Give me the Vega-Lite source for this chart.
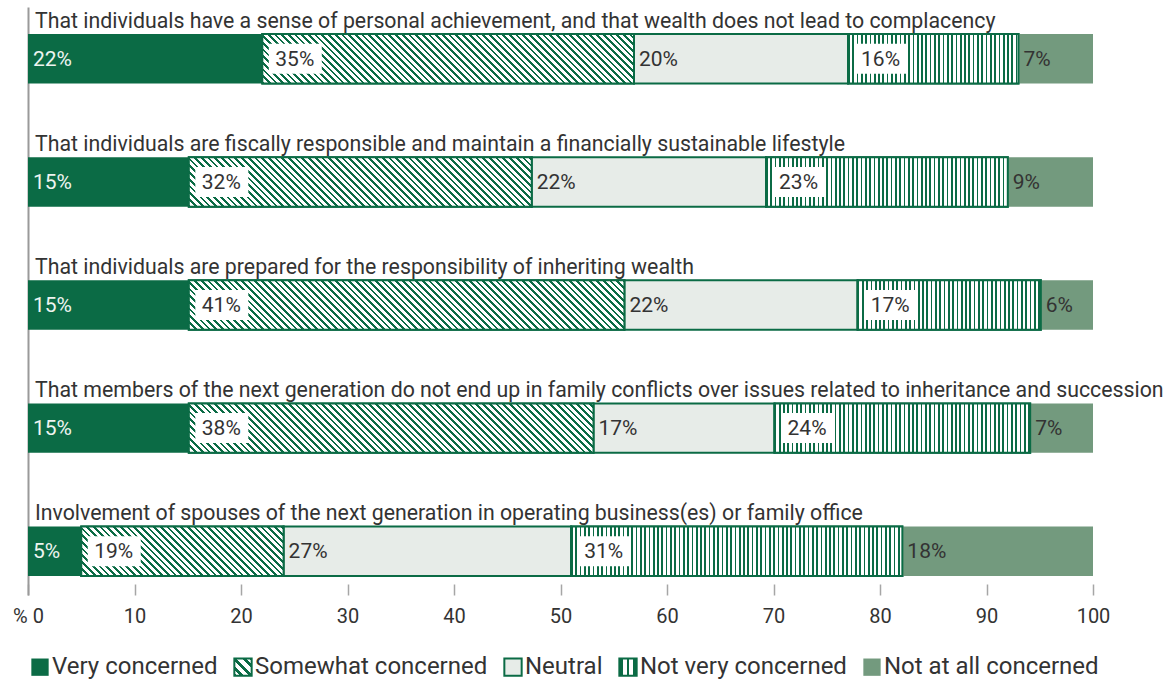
{
  "$schema": "https://vega.github.io/schema/vega-lite/v6.json",
  "autosize": {"type": "none"},
  "width": 1065,
  "height": 588,
  "padding": {"left": 28, "top": 7, "right": 73, "bottom": 84},
  "background": "white",
  "config": {"view": {"stroke": null}, "font": "Roboto"},
  "params": [
    {"name": "stp", "value": [
      {"offset":0,"color":"#0b6b45"},{"offset":0.005,"color":"#0b6b45"},{"offset":0.005,"color":"#fff"},{"offset":0.0125,"color":"#fff"},
      {"offset":0.0125,"color":"#0b6b45"},{"offset":0.0175,"color":"#0b6b45"},{"offset":0.0175,"color":"#fff"},{"offset":0.025,"color":"#fff"},
      {"offset":0.025,"color":"#0b6b45"},{"offset":0.03,"color":"#0b6b45"},{"offset":0.03,"color":"#fff"},{"offset":0.0375,"color":"#fff"},
      {"offset":0.0375,"color":"#0b6b45"},{"offset":0.0425,"color":"#0b6b45"},{"offset":0.0425,"color":"#fff"},{"offset":0.05,"color":"#fff"},
      {"offset":0.05,"color":"#0b6b45"},{"offset":0.055,"color":"#0b6b45"},{"offset":0.055,"color":"#fff"},{"offset":0.0625,"color":"#fff"},
      {"offset":0.0625,"color":"#0b6b45"},{"offset":0.0675,"color":"#0b6b45"},{"offset":0.0675,"color":"#fff"},{"offset":0.075,"color":"#fff"},
      {"offset":0.075,"color":"#0b6b45"},{"offset":0.08,"color":"#0b6b45"},{"offset":0.08,"color":"#fff"},{"offset":0.0875,"color":"#fff"},
      {"offset":0.0875,"color":"#0b6b45"},{"offset":0.0925,"color":"#0b6b45"},{"offset":0.0925,"color":"#fff"},{"offset":0.1,"color":"#fff"},
      {"offset":0.1,"color":"#0b6b45"},{"offset":0.105,"color":"#0b6b45"},{"offset":0.105,"color":"#fff"},{"offset":0.1125,"color":"#fff"},
      {"offset":0.1125,"color":"#0b6b45"},{"offset":0.1175,"color":"#0b6b45"},{"offset":0.1175,"color":"#fff"},{"offset":0.125,"color":"#fff"},
      {"offset":0.125,"color":"#0b6b45"},{"offset":0.13,"color":"#0b6b45"},{"offset":0.13,"color":"#fff"},{"offset":0.1375,"color":"#fff"},
      {"offset":0.1375,"color":"#0b6b45"},{"offset":0.1425,"color":"#0b6b45"},{"offset":0.1425,"color":"#fff"},{"offset":0.15,"color":"#fff"},
      {"offset":0.15,"color":"#0b6b45"},{"offset":0.155,"color":"#0b6b45"},{"offset":0.155,"color":"#fff"},{"offset":0.1625,"color":"#fff"},
      {"offset":0.1625,"color":"#0b6b45"},{"offset":0.1675,"color":"#0b6b45"},{"offset":0.1675,"color":"#fff"},{"offset":0.175,"color":"#fff"},
      {"offset":0.175,"color":"#0b6b45"},{"offset":0.18,"color":"#0b6b45"},{"offset":0.18,"color":"#fff"},{"offset":0.1875,"color":"#fff"},
      {"offset":0.1875,"color":"#0b6b45"},{"offset":0.1925,"color":"#0b6b45"},{"offset":0.1925,"color":"#fff"},{"offset":0.2,"color":"#fff"},
      {"offset":0.2,"color":"#0b6b45"},{"offset":0.205,"color":"#0b6b45"},{"offset":0.205,"color":"#fff"},{"offset":0.2125,"color":"#fff"},
      {"offset":0.2125,"color":"#0b6b45"},{"offset":0.2175,"color":"#0b6b45"},{"offset":0.2175,"color":"#fff"},{"offset":0.225,"color":"#fff"},
      {"offset":0.225,"color":"#0b6b45"},{"offset":0.23,"color":"#0b6b45"},{"offset":0.23,"color":"#fff"},{"offset":0.2375,"color":"#fff"},
      {"offset":0.2375,"color":"#0b6b45"},{"offset":0.2425,"color":"#0b6b45"},{"offset":0.2425,"color":"#fff"},{"offset":0.25,"color":"#fff"},
      {"offset":0.25,"color":"#0b6b45"},{"offset":0.255,"color":"#0b6b45"},{"offset":0.255,"color":"#fff"},{"offset":0.2625,"color":"#fff"},
      {"offset":0.2625,"color":"#0b6b45"},{"offset":0.2675,"color":"#0b6b45"},{"offset":0.2675,"color":"#fff"},{"offset":0.275,"color":"#fff"},
      {"offset":0.275,"color":"#0b6b45"},{"offset":0.28,"color":"#0b6b45"},{"offset":0.28,"color":"#fff"},{"offset":0.2875,"color":"#fff"},
      {"offset":0.2875,"color":"#0b6b45"},{"offset":0.2925,"color":"#0b6b45"},{"offset":0.2925,"color":"#fff"},{"offset":0.3,"color":"#fff"},
      {"offset":0.3,"color":"#0b6b45"},{"offset":0.305,"color":"#0b6b45"},{"offset":0.305,"color":"#fff"},{"offset":0.3125,"color":"#fff"},
      {"offset":0.3125,"color":"#0b6b45"},{"offset":0.3175,"color":"#0b6b45"},{"offset":0.3175,"color":"#fff"},{"offset":0.325,"color":"#fff"},
      {"offset":0.325,"color":"#0b6b45"},{"offset":0.33,"color":"#0b6b45"},{"offset":0.33,"color":"#fff"},{"offset":0.3375,"color":"#fff"},
      {"offset":0.3375,"color":"#0b6b45"},{"offset":0.3425,"color":"#0b6b45"},{"offset":0.3425,"color":"#fff"},{"offset":0.35,"color":"#fff"},
      {"offset":0.35,"color":"#0b6b45"},{"offset":0.355,"color":"#0b6b45"},{"offset":0.355,"color":"#fff"},{"offset":0.3625,"color":"#fff"},
      {"offset":0.3625,"color":"#0b6b45"},{"offset":0.3675,"color":"#0b6b45"},{"offset":0.3675,"color":"#fff"},{"offset":0.375,"color":"#fff"},
      {"offset":0.375,"color":"#0b6b45"},{"offset":0.38,"color":"#0b6b45"},{"offset":0.38,"color":"#fff"},{"offset":0.3875,"color":"#fff"},
      {"offset":0.3875,"color":"#0b6b45"},{"offset":0.3925,"color":"#0b6b45"},{"offset":0.3925,"color":"#fff"},{"offset":0.4,"color":"#fff"},
      {"offset":0.4,"color":"#0b6b45"},{"offset":0.405,"color":"#0b6b45"},{"offset":0.405,"color":"#fff"},{"offset":0.4125,"color":"#fff"},
      {"offset":0.4125,"color":"#0b6b45"},{"offset":0.4175,"color":"#0b6b45"},{"offset":0.4175,"color":"#fff"},{"offset":0.425,"color":"#fff"},
      {"offset":0.425,"color":"#0b6b45"},{"offset":0.43,"color":"#0b6b45"},{"offset":0.43,"color":"#fff"},{"offset":0.4375,"color":"#fff"},
      {"offset":0.4375,"color":"#0b6b45"},{"offset":0.4425,"color":"#0b6b45"},{"offset":0.4425,"color":"#fff"},{"offset":0.45,"color":"#fff"},
      {"offset":0.45,"color":"#0b6b45"},{"offset":0.455,"color":"#0b6b45"},{"offset":0.455,"color":"#fff"},{"offset":0.4625,"color":"#fff"},
      {"offset":0.4625,"color":"#0b6b45"},{"offset":0.4675,"color":"#0b6b45"},{"offset":0.4675,"color":"#fff"},{"offset":0.475,"color":"#fff"},
      {"offset":0.475,"color":"#0b6b45"},{"offset":0.48,"color":"#0b6b45"},{"offset":0.48,"color":"#fff"},{"offset":0.4875,"color":"#fff"},
      {"offset":0.4875,"color":"#0b6b45"},{"offset":0.4925,"color":"#0b6b45"},{"offset":0.4925,"color":"#fff"},{"offset":0.5,"color":"#fff"},
      {"offset":0.5,"color":"#0b6b45"},{"offset":0.505,"color":"#0b6b45"},{"offset":0.505,"color":"#fff"},{"offset":0.5125,"color":"#fff"},
      {"offset":0.5125,"color":"#0b6b45"},{"offset":0.5175,"color":"#0b6b45"},{"offset":0.5175,"color":"#fff"},{"offset":0.525,"color":"#fff"},
      {"offset":0.525,"color":"#0b6b45"},{"offset":0.53,"color":"#0b6b45"},{"offset":0.53,"color":"#fff"},{"offset":0.5375,"color":"#fff"},
      {"offset":0.5375,"color":"#0b6b45"},{"offset":0.5425,"color":"#0b6b45"},{"offset":0.5425,"color":"#fff"},{"offset":0.55,"color":"#fff"},
      {"offset":0.55,"color":"#0b6b45"},{"offset":0.555,"color":"#0b6b45"},{"offset":0.555,"color":"#fff"},{"offset":0.5625,"color":"#fff"},
      {"offset":0.5625,"color":"#0b6b45"},{"offset":0.5675,"color":"#0b6b45"},{"offset":0.5675,"color":"#fff"},{"offset":0.575,"color":"#fff"},
      {"offset":0.575,"color":"#0b6b45"},{"offset":0.58,"color":"#0b6b45"},{"offset":0.58,"color":"#fff"},{"offset":0.5875,"color":"#fff"},
      {"offset":0.5875,"color":"#0b6b45"},{"offset":0.5925,"color":"#0b6b45"},{"offset":0.5925,"color":"#fff"},{"offset":0.6,"color":"#fff"},
      {"offset":0.6,"color":"#0b6b45"},{"offset":0.605,"color":"#0b6b45"},{"offset":0.605,"color":"#fff"},{"offset":0.6125,"color":"#fff"},
      {"offset":0.6125,"color":"#0b6b45"},{"offset":0.6175,"color":"#0b6b45"},{"offset":0.6175,"color":"#fff"},{"offset":0.625,"color":"#fff"},
      {"offset":0.625,"color":"#0b6b45"},{"offset":0.63,"color":"#0b6b45"},{"offset":0.63,"color":"#fff"},{"offset":0.6375,"color":"#fff"},
      {"offset":0.6375,"color":"#0b6b45"},{"offset":0.6425,"color":"#0b6b45"},{"offset":0.6425,"color":"#fff"},{"offset":0.65,"color":"#fff"},
      {"offset":0.65,"color":"#0b6b45"},{"offset":0.655,"color":"#0b6b45"},{"offset":0.655,"color":"#fff"},{"offset":0.6625,"color":"#fff"},
      {"offset":0.6625,"color":"#0b6b45"},{"offset":0.6675,"color":"#0b6b45"},{"offset":0.6675,"color":"#fff"},{"offset":0.675,"color":"#fff"},
      {"offset":0.675,"color":"#0b6b45"},{"offset":0.68,"color":"#0b6b45"},{"offset":0.68,"color":"#fff"},{"offset":0.6875,"color":"#fff"},
      {"offset":0.6875,"color":"#0b6b45"},{"offset":0.6925,"color":"#0b6b45"},{"offset":0.6925,"color":"#fff"},{"offset":0.7,"color":"#fff"},
      {"offset":0.7,"color":"#0b6b45"},{"offset":0.705,"color":"#0b6b45"},{"offset":0.705,"color":"#fff"},{"offset":0.7125,"color":"#fff"},
      {"offset":0.7125,"color":"#0b6b45"},{"offset":0.7175,"color":"#0b6b45"},{"offset":0.7175,"color":"#fff"},{"offset":0.725,"color":"#fff"},
      {"offset":0.725,"color":"#0b6b45"},{"offset":0.73,"color":"#0b6b45"},{"offset":0.73,"color":"#fff"},{"offset":0.7375,"color":"#fff"},
      {"offset":0.7375,"color":"#0b6b45"},{"offset":0.7425,"color":"#0b6b45"},{"offset":0.7425,"color":"#fff"},{"offset":0.75,"color":"#fff"},
      {"offset":0.75,"color":"#0b6b45"},{"offset":0.755,"color":"#0b6b45"},{"offset":0.755,"color":"#fff"},{"offset":0.7625,"color":"#fff"},
      {"offset":0.7625,"color":"#0b6b45"},{"offset":0.7675,"color":"#0b6b45"},{"offset":0.7675,"color":"#fff"},{"offset":0.775,"color":"#fff"},
      {"offset":0.775,"color":"#0b6b45"},{"offset":0.78,"color":"#0b6b45"},{"offset":0.78,"color":"#fff"},{"offset":0.7875,"color":"#fff"},
      {"offset":0.7875,"color":"#0b6b45"},{"offset":0.7925,"color":"#0b6b45"},{"offset":0.7925,"color":"#fff"},{"offset":0.8,"color":"#fff"},
      {"offset":0.8,"color":"#0b6b45"},{"offset":0.805,"color":"#0b6b45"},{"offset":0.805,"color":"#fff"},{"offset":0.8125,"color":"#fff"},
      {"offset":0.8125,"color":"#0b6b45"},{"offset":0.8175,"color":"#0b6b45"},{"offset":0.8175,"color":"#fff"},{"offset":0.825,"color":"#fff"},
      {"offset":0.825,"color":"#0b6b45"},{"offset":0.83,"color":"#0b6b45"},{"offset":0.83,"color":"#fff"},{"offset":0.8375,"color":"#fff"},
      {"offset":0.8375,"color":"#0b6b45"},{"offset":0.8425,"color":"#0b6b45"},{"offset":0.8425,"color":"#fff"},{"offset":0.85,"color":"#fff"},
      {"offset":0.85,"color":"#0b6b45"},{"offset":0.855,"color":"#0b6b45"},{"offset":0.855,"color":"#fff"},{"offset":0.8625,"color":"#fff"},
      {"offset":0.8625,"color":"#0b6b45"},{"offset":0.8675,"color":"#0b6b45"},{"offset":0.8675,"color":"#fff"},{"offset":0.875,"color":"#fff"},
      {"offset":0.875,"color":"#0b6b45"},{"offset":0.88,"color":"#0b6b45"},{"offset":0.88,"color":"#fff"},{"offset":0.8875,"color":"#fff"},
      {"offset":0.8875,"color":"#0b6b45"},{"offset":0.8925,"color":"#0b6b45"},{"offset":0.8925,"color":"#fff"},{"offset":0.9,"color":"#fff"},
      {"offset":0.9,"color":"#0b6b45"},{"offset":0.905,"color":"#0b6b45"},{"offset":0.905,"color":"#fff"},{"offset":0.9125,"color":"#fff"},
      {"offset":0.9125,"color":"#0b6b45"},{"offset":0.9175,"color":"#0b6b45"},{"offset":0.9175,"color":"#fff"},{"offset":0.925,"color":"#fff"},
      {"offset":0.925,"color":"#0b6b45"},{"offset":0.93,"color":"#0b6b45"},{"offset":0.93,"color":"#fff"},{"offset":0.9375,"color":"#fff"},
      {"offset":0.9375,"color":"#0b6b45"},{"offset":0.9425,"color":"#0b6b45"},{"offset":0.9425,"color":"#fff"},{"offset":0.95,"color":"#fff"},
      {"offset":0.95,"color":"#0b6b45"},{"offset":0.955,"color":"#0b6b45"},{"offset":0.955,"color":"#fff"},{"offset":0.9625,"color":"#fff"},
      {"offset":0.9625,"color":"#0b6b45"},{"offset":0.9675,"color":"#0b6b45"},{"offset":0.9675,"color":"#fff"},{"offset":0.975,"color":"#fff"},
      {"offset":0.975,"color":"#0b6b45"},{"offset":0.98,"color":"#0b6b45"},{"offset":0.98,"color":"#fff"},{"offset":0.9875,"color":"#fff"},
      {"offset":0.9875,"color":"#0b6b45"},{"offset":0.9925,"color":"#0b6b45"},{"offset":0.9925,"color":"#fff"},{"offset":1,"color":"#fff"}
    ]}
  ],
  "data": {"values": [
    {"question": "That individuals have a sense of personal achievement, and that wealth does not lead to complacency", "cat": "Very concerned", "order": 1, "value": 22, "label": "22%"},
    {"question": "That individuals have a sense of personal achievement, and that wealth does not lead to complacency", "cat": "Somewhat concerned", "order": 2, "value": 34.9, "label": "35%"},
    {"question": "That individuals have a sense of personal achievement, and that wealth does not lead to complacency", "cat": "Neutral", "order": 3, "value": 20.1, "label": "20%"},
    {"question": "That individuals have a sense of personal achievement, and that wealth does not lead to complacency", "cat": "Not very concerned", "order": 4, "value": 16, "label": "16%"},
    {"question": "That individuals have a sense of personal achievement, and that wealth does not lead to complacency", "cat": "Not at all concerned", "order": 5, "value": 7, "label": "7%"},
    {"question": "That individuals are fiscally responsible and maintain a financially sustainable lifestyle", "cat": "Very concerned", "order": 1, "value": 15.1, "label": "15%"},
    {"question": "That individuals are fiscally responsible and maintain a financially sustainable lifestyle", "cat": "Somewhat concerned", "order": 2, "value": 32.2, "label": "32%"},
    {"question": "That individuals are fiscally responsible and maintain a financially sustainable lifestyle", "cat": "Neutral", "order": 3, "value": 22, "label": "22%"},
    {"question": "That individuals are fiscally responsible and maintain a financially sustainable lifestyle", "cat": "Not very concerned", "order": 4, "value": 22.7, "label": "23%"},
    {"question": "That individuals are fiscally responsible and maintain a financially sustainable lifestyle", "cat": "Not at all concerned", "order": 5, "value": 8, "label": "9%"},
    {"question": "That individuals are prepared for the responsibility of inheriting wealth", "cat": "Very concerned", "order": 1, "value": 15.1, "label": "15%"},
    {"question": "That individuals are prepared for the responsibility of inheriting wealth", "cat": "Somewhat concerned", "order": 2, "value": 40.9, "label": "41%"},
    {"question": "That individuals are prepared for the responsibility of inheriting wealth", "cat": "Neutral", "order": 3, "value": 21.9, "label": "22%"},
    {"question": "That individuals are prepared for the responsibility of inheriting wealth", "cat": "Not very concerned", "order": 4, "value": 17.2, "label": "17%"},
    {"question": "That individuals are prepared for the responsibility of inheriting wealth", "cat": "Not at all concerned", "order": 5, "value": 4.9, "label": "6%"},
    {"question": "That members of the next generation do not end up in family conflicts over issues related to inheritance and succession", "cat": "Very concerned", "order": 1, "value": 15.1, "label": "15%"},
    {"question": "That members of the next generation do not end up in family conflicts over issues related to inheritance and succession", "cat": "Somewhat concerned", "order": 2, "value": 38, "label": "38%"},
    {"question": "That members of the next generation do not end up in family conflicts over issues related to inheritance and succession", "cat": "Neutral", "order": 3, "value": 17, "label": "17%"},
    {"question": "That members of the next generation do not end up in family conflicts over issues related to inheritance and succession", "cat": "Not very concerned", "order": 4, "value": 24, "label": "24%"},
    {"question": "That members of the next generation do not end up in family conflicts over issues related to inheritance and succession", "cat": "Not at all concerned", "order": 5, "value": 5.9, "label": "7%"},
    {"question": "Involvement of spouses of the next generation in operating business(es) or family office", "cat": "Very concerned", "order": 1, "value": 5, "label": "5%"},
    {"question": "Involvement of spouses of the next generation in operating business(es) or family office", "cat": "Somewhat concerned", "order": 2, "value": 19, "label": "19%"},
    {"question": "Involvement of spouses of the next generation in operating business(es) or family office", "cat": "Neutral", "order": 3, "value": 27, "label": "27%"},
    {"question": "Involvement of spouses of the next generation in operating business(es) or family office", "cat": "Not very concerned", "order": 4, "value": 31.1, "label": "31%"},
    {"question": "Involvement of spouses of the next generation in operating business(es) or family office", "cat": "Not at all concerned", "order": 5, "value": 17.9, "label": "18%"}
  ]},
  "transform": [
    {"stack": "value", "groupby": ["question"], "sort": [{"field": "order", "order": "ascending"}], "as": ["x0", "x1"]}
  ],
  "encoding": {
    "y": {
      "field": "question", "type": "nominal", "sort": null,
      "scale": {"type": "band", "paddingInner": 0.598, "paddingOuter": 0.187, "align": 0.587},
      "axis": {"title": null, "labels": false, "ticks": false, "grid": false, "domain": true, "domainColor": "#9a9a9a", "domainWidth": 2}
    }
  },
  "layer": [
    {
      "mark": {"type": "bar", "strokeWidth": 2},
      "encoding": {
        "x": {
          "field": "x0", "type": "quantitative",
          "scale": {"domain": [0, 100], "nice": false},
          "axis": {
            "title": null, "values": [0, 10, 20, 30, 40, 50, 60, 70, 80, 90, 100],
            "grid": false, "domain": false, "tickColor": "#a6a6a6", "tickWidth": 1.5, "tickSize": -11,
            "labelPadding": 22, "labelFontSize": 20, "labelColor": "#333333", "labelFlush": false,
            "labelExpr": "datum.value == 0 ? '% 0' : datum.label"
          }
        },
        "x2": {"field": "x1"},
        "color": {
          "field": "cat", "type": "nominal",
          "scale": {
            "domain": ["Very concerned", "Somewhat concerned", "Neutral", "Not very concerned", "Not at all concerned"],
            "range": [
              "#0b6b45",
              {"expr": "{gradient: 'linear', x1: 0, y1: 1, x2: 1, y2: 0, stops: [{offset: 0, color: '#0b6b45'}, {offset: 0.08, color: '#0b6b45'}, {offset: 0.08, color: '#fff'}, {offset: 0.16, color: '#fff'}, {offset: 0.16, color: '#0b6b45'}, {offset: 0.28, color: '#0b6b45'}, {offset: 0.28, color: '#fff'}, {offset: 0.44, color: '#fff'}, {offset: 0.44, color: '#0b6b45'}, {offset: 0.56, color: '#0b6b45'}, {offset: 0.56, color: '#fff'}, {offset: 0.72, color: '#fff'}, {offset: 0.72, color: '#0b6b45'}, {offset: 0.84, color: '#0b6b45'}, {offset: 0.84, color: '#fff'}, {offset: 0.92, color: '#fff'}, {offset: 0.92, color: '#0b6b45'}, {offset: 1, color: '#0b6b45'}]}"},
              "#e7ece8",
              {"expr": "{gradient: 'linear', x1: 0, y1: 0, x2: 1, y2: 0, stops: [{offset: 0, color: '#0b6b45'}, {offset: 0.22, color: '#0b6b45'}, {offset: 0.22, color: '#fff'}, {offset: 0.42, color: '#fff'}, {offset: 0.42, color: '#0b6b45'}, {offset: 0.58, color: '#0b6b45'}, {offset: 0.58, color: '#fff'}, {offset: 0.78, color: '#fff'}, {offset: 0.78, color: '#0b6b45'}, {offset: 1, color: '#0b6b45'}]}"},
              "#739a7e"
            ]
          },
          "legend": {
            "title": null, "orient": "none", "legendX": 0, "legendY": 648, "direction": "horizontal",
            "symbolType": "square", "symbolSize": 300, "symbolStrokeWidth": 2,
            "labelFontSize": 24, "labelColor": "#333333", "labelOffset": 0, "columnPadding": 12, "labelLimit": 0,
            "encoding": {
              "symbols": {
                "stroke": {"value": {"expr": "datum.value == 'Very concerned' || datum.value == 'Not at all concerned' ? 'transparent' : '#0b6b45'"}},
                "strokeWidth": {"value": 2}
              }
            }
          }
        },
        "stroke": {
          "condition": {"test": "datum.cat == 'Very concerned' || datum.cat == 'Not at all concerned'", "value": "transparent"},
          "value": "#0b6b45"
        }
      }
    },
    {
      "transform": [{"filter": "datum.cat == 'Somewhat concerned'"}],
      "mark": {
        "type": "bar", "stroke": "#0b6b45", "strokeWidth": 2,
        "fill": {"expr": "{gradient: 'linear', x1: 0, y1: 1, x2: 536 * ((datum.x1 - datum.x0) * width / 100) / (pow((datum.x1 - datum.x0) * width / 100, 2) + pow(bandwidth('y'), 2)), y2: 1 - 536 * bandwidth('y') / (pow((datum.x1 - datum.x0) * width / 100, 2) + pow(bandwidth('y'), 2)), stops: stp}"}
      },
      "encoding": {
        "x": {"field": "x0", "type": "quantitative"},
        "x2": {"field": "x1"}
      }
    },
    {
      "transform": [{"filter": "datum.cat == 'Not very concerned'"}],
      "mark": {
        "type": "bar", "stroke": "#0b6b45", "strokeWidth": 2,
        "fill": {"expr": "{gradient: 'linear', x1: 0, y1: 0, x2: 344 / ((datum.x1 - datum.x0) * width / 100), y2: 0, stops: stp}"}
      },
      "encoding": {
        "x": {"field": "x0", "type": "quantitative"},
        "x2": {"field": "x1"}
      }
    },
    {
      "transform": [{"filter": "datum.cat == 'Somewhat concerned' || datum.cat == 'Not very concerned'"}],
      "mark": {"type": "bar", "fill": "#ffffff", "height": 30, "xOffset": 6.5, "x2Offset": 59.5},
      "encoding": {
        "x": {"field": "x0", "type": "quantitative"},
        "x2": {"field": "x0"}
      }
    },
    {
      "transform": [{"filter": "datum.cat != 'Somewhat concerned' && datum.cat != 'Not very concerned'"}],
      "mark": {"type": "text", "align": "left", "baseline": "middle", "xOffset": 5, "yOffset": 1, "fontSize": 21},
      "encoding": {
        "x": {"field": "x0", "type": "quantitative"},
        "text": {"field": "label"},
        "color": {"condition": {"test": "datum.cat == 'Very concerned'", "value": "#eef4f0"}, "value": "#333333"}
      }
    },
    {
      "transform": [{"filter": "datum.cat == 'Somewhat concerned' || datum.cat == 'Not very concerned'"}],
      "mark": {"type": "text", "align": "left", "baseline": "middle", "xOffset": 13, "yOffset": 1, "fontSize": 21, "color": "#333333"},
      "encoding": {
        "x": {"field": "x0", "type": "quantitative"},
        "text": {"field": "label"}
      }
    },
    {
      "transform": [{"filter": "datum.order == 1"}],
      "mark": {"type": "text", "align": "left", "baseline": "alphabetic", "xOffset": 7, "yOffset": -31, "fontSize": 21.3, "color": "#333333"},
      "encoding": {
        "x": {"datum": 0, "type": "quantitative"},
        "text": {"field": "question"}
      }
    }
  ]
}
